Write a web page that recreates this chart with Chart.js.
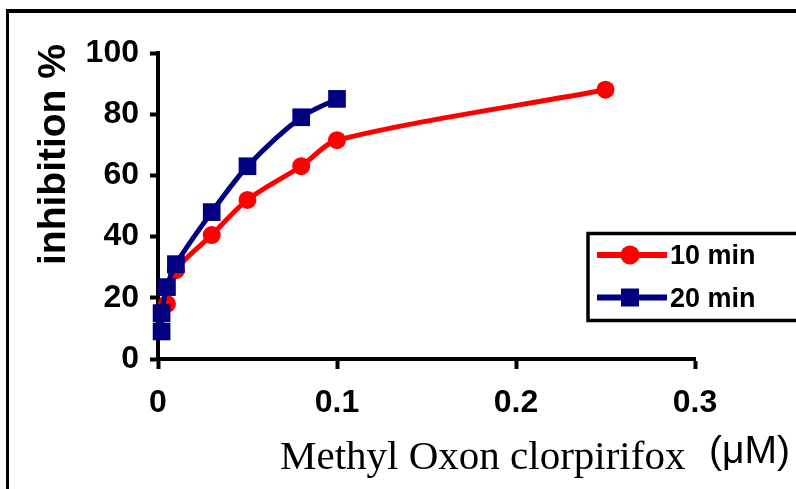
<!DOCTYPE html>
<html>
<head>
<meta charset="utf-8">
<script src="https://cdn.jsdelivr.net/npm/chart.js@4.4.0/dist/chart.umd.min.js"></script>
<style>
  html, body { margin: 0; padding: 0; background: #fff; }
  #wrap { width: 796px; height: 489px; }
</style>
</head>
<body>
<div id="wrap"><canvas id="myChart" width="796" height="489"></canvas></div>
<script>
// values
const xTicks = [0, 0.1, 0.2, 0.3];
const yTicks = [0, 20, 40, 60, 80, 100];
const seriesNames = ["10 min", "20 min"];
const conc10 = [0.005, 0.01, 0.03, 0.05, 0.08, 0.1, 0.25];
const inhib10 = [18, 29, 40.5, 52, 63, 71.5, 88];
const conc20 = [0.002, 0.002, 0.005, 0.01, 0.03, 0.05, 0.08, 0.1];
const inhib20 = [9, 15, 23.5, 31, 48, 63, 79, 85];
const xTitle = "Methyl Oxon clorpirifox";
const xUnit = "(μM)";
const yTitle = "inhibition %";

const RED = "#ff0000";
const NAVY = "#000080";
const SANS = "'Liberation Sans', Arial, sans-serif";
const SERIF = "'Liberation Serif', 'Times New Roman', serif";

const toPoints = (xs, ys) => xs.map((x, i) => ({ x: x, y: ys[i] }));

const whiteBackground = {
  id: "whiteBackground",
  beforeDraw: (chart) => {
    const ctx = chart.ctx;
    ctx.save();
    ctx.fillStyle = "#fff";
    ctx.fillRect(0, 0, chart.width, chart.height);
    ctx.restore();
  },
};

// outer frame, axis titles and the boxed legend
const decorations = {
  id: "decorations",
  afterDraw: (chart) => {
    const ctx = chart.ctx;
    ctx.save();
    ctx.fillStyle = "#000";
    ctx.fillRect(6, 9, 3, chart.height);
    ctx.fillRect(6, 9, chart.width, 4);

    // y title
    ctx.save();
    ctx.translate(65, 265);
    ctx.rotate(-Math.PI / 2);
    ctx.font = "bold 39px " + SANS;
    ctx.textAlign = "left";
    ctx.textBaseline = "alphabetic";
    ctx.fillText(yTitle, 0, 0);
    ctx.restore();

    // x title
    ctx.textAlign = "left";
    ctx.textBaseline = "alphabetic";
    ctx.font = "41px " + SERIF;
    ctx.fillText(xTitle, 280, 469);
    ctx.font = "39px " + SANS;
    ctx.fillText(xUnit, 709, 463);

    // legend
    ctx.fillStyle = "#fff";
    ctx.fillRect(588, 233, 300, 88);
    ctx.strokeStyle = "#000";
    ctx.lineWidth = 3.5;
    ctx.strokeRect(588, 233.5, 300, 87);
    const rows = [255, 297.5];
    chart.data.datasets.forEach((ds, i) => {
      const y = rows[i];
      ctx.strokeStyle = ds.borderColor;
      ctx.lineWidth = 6;
      ctx.beginPath();
      ctx.moveTo(597, y);
      ctx.lineTo(667, y);
      ctx.stroke();
      ctx.fillStyle = ds.backgroundColor;
      if (ds.pointStyle === "rect") {
        ctx.fillRect(621, y - 9, 18, 18);
      } else {
        ctx.beginPath();
        ctx.arc(630, y, 9.5, 0, Math.PI * 2);
        ctx.fill();
      }
      ctx.fillStyle = "#000";
      ctx.font = "bold 27px " + SANS;
      ctx.fillText(ds.label, 670, y + 9);
    });
    ctx.restore();
  },
};

const tickFont = { family: SANS, size: 32, weight: "bold" };

new Chart(document.getElementById("myChart"), {
  type: "line",
  data: {
    datasets: [
      {
        label: seriesNames[0],
        data: toPoints(conc10, inhib10),
        borderColor: RED,
        backgroundColor: RED,
        borderWidth: 5,
        pointStyle: "circle",
        pointRadius: 9,
        pointBorderWidth: 0,
        tension: 0.3,
        clip: false,
        order: 1,
      },
      {
        label: seriesNames[1],
        data: toPoints(conc20, inhib20),
        borderColor: NAVY,
        backgroundColor: NAVY,
        borderWidth: 5,
        pointStyle: "rect",
        pointRadius: 12.5,
        pointBorderWidth: 0,
        tension: 0.3,
        clip: false,
        order: 0,
      },
    ],
  },
  options: {
    responsive: false,
    animation: false,
    devicePixelRatio: 1,
    layout: { padding: { left: 0, right: 101, top: 53, bottom: 0 } },
    plugins: {
      legend: { display: false },
      tooltip: { enabled: false },
    },
    scales: {
      x: {
        type: "linear",
        min: 0,
        max: 0.3,
        afterBuildTicks: (scale) => {
          scale.ticks = xTicks.map((v) => ({ value: v }));
        },
        afterFit: (scale) => {
          scale.height = 130;
        },
        ticks: {
          font: tickFont,
          color: "#000",
          padding: 15,
          maxRotation: 0,
          autoSkip: false,
          callback: (v) => String(v),
        },
        grid: {
          drawOnChartArea: false,
          tickLength: 10,
          tickWidth: 4,
          tickColor: "#000",
        },
        border: { color: "#000", width: 4 },
      },
      y: {
        min: 0,
        max: 100,
        afterBuildTicks: (scale) => {
          scale.ticks = yTicks.map((v) => ({ value: v }));
        },
        afterFit: (scale) => {
          scale.width = 158;
        },
        ticks: {
          font: tickFont,
          color: "#000",
          padding: 11,
          callback: (v) => String(v),
        },
        grid: {
          drawOnChartArea: false,
          tickLength: 8,
          tickWidth: 4,
          tickColor: "#000",
        },
        border: { color: "#000", width: 4 },
      },
    },
  },
  plugins: [whiteBackground, decorations],
});
</script>
</body>
</html>
